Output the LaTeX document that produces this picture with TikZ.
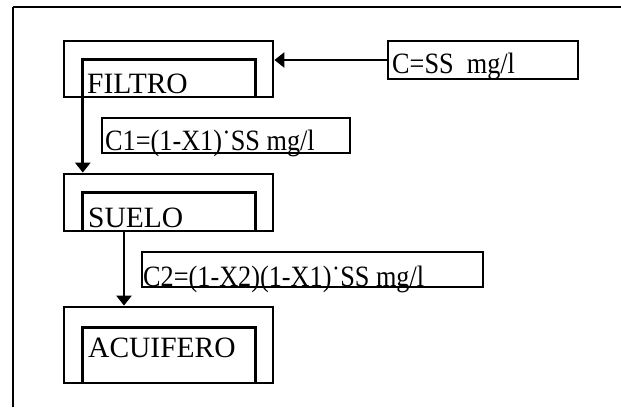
\documentclass[tikz,border=0pt]{standalone}
\usepackage{fontspec}
\setmainfont{Liberation Serif}
\newfontfamily\narrowserif[FakeStretch=0.89]{Liberation Serif}
\usetikzlibrary{arrows.meta}
\usetikzlibrary{positioning}

\begin{document}
\begin{tikzpicture}[x=1pt,y=-1pt,
  box/.style={draw,line width=2.8pt,inner sep=0pt},
  slot/.style={inner sep=0pt,minimum width=172pt},
  lbl/.style={anchor=base west,inner sep=0pt,font=\fontsize{29.5}{31}\selectfont},
  val/.style={lbl,font=\narrowserif\fontsize{29.5}{31}\selectfont},
  flow/.style={line width=2.8pt,-{Triangle[length=10pt,width=15pt]}},
  rim/.style={line width=1.3pt}]
\useasboundingbox (0,0) rectangle (621,407);
% frame
\coordinate (corner) at (13,7);
\coordinate (topend) at (621,7);
\coordinate (leftend) at (13,407);
\draw[rim] (corner) -- (topend);
\draw[rim] (corner) -- (leftend);
% stages
\node[box,minimum width=209pt,minimum height=56pt] (filtro) at (168.5,69) {};
\node[box,minimum width=209pt,minimum height=57pt] (suelo) at (168.5,202.5) {};
\node[box,minimum width=209pt,minimum height=76pt] (acuifero) at (168.5,345) {};
\node[slot,minimum height=37pt] (filtroin) at (169,78.5) {};
\node[slot,minimum height=38pt] (sueloin) at (169,212) {};
\node[slot,minimum height=55pt] (acuiferoin) at (169,355.5) {};
\foreach \s in {filtroin,sueloin,acuiferoin} {
\draw[line width=2.8pt] (\s.south west) |- (\s.north east) -- (\s.south east);
}
\node[lbl] (tfiltro) at (87,93) {FILTRO};
\node[lbl] (tsuelo) at (88,227) {SUELO};
\node[lbl] (tacuifero) at (88,357) {ACUIFERO};
% concentrations
\node[box,minimum width=190pt,minimum height=38pt] (cin) at (483,60) {};
\node[box,minimum width=248pt,minimum height=35pt] (cuno) at (226,135.5) {};
\node[box,minimum width=341pt,minimum height=35pt] (cdos) at (312.5,269.5) {};
\node[val] (tcin) at (392,73) {C=SS\ \ mg/l};
\node[val] (tcuno) at (105,150) {C1=(1-X1)˙SS mg/l};
\node[val] (tcdos) at (143,286) {C2=(1-X2)(1-X1)˙SS mg/l};
% arrows
\draw[flow] (cin.west) -- (cin.west -| filtro.east);
\draw[flow] (filtroin.south west) -- (filtroin.south west |- suelo.north);
\coordinate (sout) at (124,231);
\draw[flow] (sout) -- (sout |- acuifero.north);
\end{tikzpicture}
\end{document}
